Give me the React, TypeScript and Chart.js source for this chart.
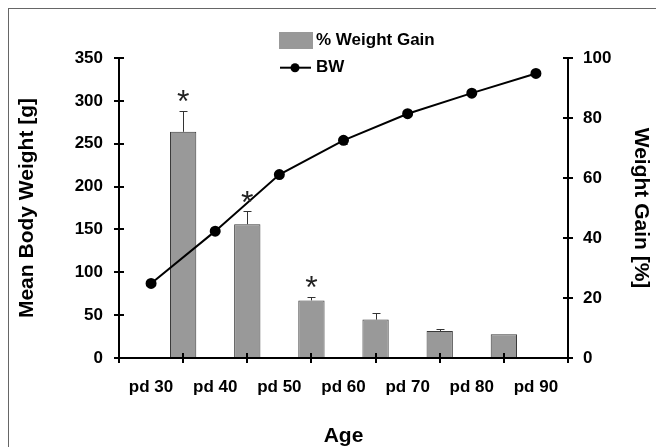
import React, { useEffect, useRef } from 'react';
import { Chart, registerables } from 'chart.js';

Chart.register(...registerables);

const FONT = '"Liberation Sans", Arial, Helvetica, sans-serif';

// Ages (post-natal day) where body weight was measured
const ageDays = [30, 40, 50, 60, 70, 80, 90];
// Mean body weight [g] and its error
const bodyWeight = [87, 148, 214, 254, 285, 309, 332];
const bodyWeightErr = [2, 2, 3, 4, 2, 2, 2];
// Weight gain intervals are placed between consecutive ages
const gainPositions = [35, 45, 55, 65, 75, 85];
const weightGain = [75.4, 44.6, 19.2, 12.8, 9.0, 7.9];
const weightGainErr = [7.0, 4.4, 1.3, 2.2, 0.8, 0];
const significant = [true, true, true, false, false, false];

const leftAxis = { min: 0, max: 350, step: 50 };
const rightAxis = { min: 0, max: 100, step: 20 };

const legendLabels = { bar: '% Weight Gain', line: 'BW' };

const overlayPlugin = {
  id: 'overlay',
  afterDatasetsDraw(chart: any) {
    const ctx = chart.ctx;
    const x = chart.scales.x;
    const yL = chart.scales.y;
    const yR = chart.scales.y1;
    ctx.save();
    // error bars on weight gain bars (upper only)
    ctx.strokeStyle = '#333';
    ctx.lineWidth = 1;
    gainPositions.forEach((p, i) => {
      if (!weightGainErr[i]) return;
      const px = Math.round(x.getPixelForValue(p)) + 0.5;
      const top = yR.getPixelForValue(weightGain[i]);
      const e = Math.round(yR.getPixelForValue(weightGain[i] + weightGainErr[i])) + 0.5;
      ctx.beginPath();
      ctx.moveTo(px, top);
      ctx.lineTo(px, e);
      ctx.moveTo(px - 4, e);
      ctx.lineTo(px + 4, e);
      ctx.stroke();
    });
    // error bars on body weight
    ctx.strokeStyle = '#000';
    ageDays.forEach((a, i) => {
      const px = Math.round(x.getPixelForValue(a)) + 0.5;
      const hi = Math.round(yL.getPixelForValue(bodyWeight[i] + bodyWeightErr[i])) + 0.5;
      const lo = Math.round(yL.getPixelForValue(bodyWeight[i] - bodyWeightErr[i])) + 0.5;
      ctx.beginPath();
      ctx.moveTo(px, lo);
      ctx.lineTo(px, hi);
      ctx.moveTo(px - 3, hi);
      ctx.lineTo(px + 3, hi);
      ctx.moveTo(px - 3, lo);
      ctx.lineTo(px + 3, lo);
      ctx.stroke();
    });
    ctx.restore();
  },
  afterDraw(chart: any) {
    const ctx = chart.ctx;
    const area = chart.chartArea;
    const x = chart.scales.x;
    const yL = chart.scales.y;
    const yR = chart.scales.y1;
    ctx.save();
    // inward halves of the crossing tick marks
    ctx.strokeStyle = '#000';
    ctx.lineWidth = 2;
    ctx.beginPath();
    yL.ticks.forEach((t: any) => {
      const py = Math.round(yL.getPixelForValue(t.value));
      ctx.moveTo(area.left, py);
      ctx.lineTo(area.left + 5, py);
    });
    yR.ticks.forEach((t: any) => {
      const py = Math.round(yR.getPixelForValue(t.value));
      ctx.moveTo(area.right - 5, py);
      ctx.lineTo(area.right, py);
    });
    for (let i = 1; i < x.ticks.length; i++) {
      const px = Math.round((x.getPixelForTick(i - 1) + x.getPixelForTick(i)) / 2);
      ctx.moveTo(px, area.bottom - 5);
      ctx.lineTo(px, area.bottom);
    }
    ctx.stroke();

    // significance stars
    ctx.fillStyle = '#222';
    ctx.font = `32px ${FONT}`;
    ctx.textAlign = 'center';
    ctx.textBaseline = 'alphabetic';
    gainPositions.forEach((p, i) => {
      if (!significant[i]) return;
      const px = x.getPixelForValue(p);
      const e = yR.getPixelForValue(weightGain[i] + weightGainErr[i]);
      const cy = e - 17;
      ctx.fillText('*', px, cy + 0.58 * 32);
    });

    // legend
    const lx = 270;
    const ly1 = 31.5;
    const ly2 = 58.7;
    ctx.fillStyle = '#999999';
    ctx.fillRect(lx, ly1 - 8.5, 34, 17);
    ctx.strokeStyle = '#000';
    ctx.lineWidth = 2;
    ctx.beginPath();
    ctx.moveTo(lx + 1, ly2);
    ctx.lineTo(lx + 32, ly2);
    ctx.stroke();
    ctx.fillStyle = '#000';
    ctx.beginPath();
    ctx.arc(lx + 16, ly2, 4.5, 0, Math.PI * 2);
    ctx.fill();
    ctx.font = `bold 17px ${FONT}`;
    ctx.textAlign = 'left';
    ctx.textBaseline = 'middle';
    ctx.fillText(legendLabels.bar, lx + 37, ly1);
    ctx.fillText(legendLabels.line, lx + 37, ly2);
    ctx.restore();
  },
};

export default function App() {
  const canvasRef = useRef<HTMLCanvasElement | null>(null);

  useEffect(() => {
    if (!canvasRef.current) return;
    Chart.defaults.font.family = FONT;
    const tickFont = { family: FONT, size: 17, weight: 'bold' as const };
    const titleFont = { family: FONT, size: 21, weight: 'bold' as const };
    const chart = new Chart(canvasRef.current, {
      type: 'bar',
      data: {
        datasets: [
          {
            type: 'line',
            label: legendLabels.line,
            data: ageDays.map((a, i) => ({ x: a, y: bodyWeight[i] })),
            yAxisID: 'y',
            xAxisID: 'x',
            borderColor: '#000',
            borderWidth: 2,
            pointRadius: 4.5,
            pointBackgroundColor: '#000',
            pointBorderColor: '#000',
            tension: 0,
            order: 0,
          } as any,
          {
            type: 'bar',
            label: legendLabels.bar,
            data: gainPositions.map((p, i) => ({ x: p, y: weightGain[i] })),
            yAxisID: 'y1',
            xAxisID: 'x',
            backgroundColor: '#999999',
            borderColor: '#3a3a3a',
            borderWidth: 1,
            borderSkipped: 'bottom',
            barPercentage: 0.41,
            categoryPercentage: 1,
            order: 1,
          } as any,
        ],
      },
      options: {
        responsive: false,
        animation: false,
        layout: { padding: { top: 49, left: 0, right: 0, bottom: 0 } },
        plugins: { legend: { display: false }, tooltip: { enabled: false } },
        scales: {
          x: {
            type: 'linear',
            min: 25,
            max: 95,
            offset: false,
            afterBuildTicks: (s: any) => {
              s.ticks = ageDays.map((v) => ({ value: v }));
            },
            afterFit: (s: any) => {
              s.height = 89;
            },
            ticks: {
              callback: (v: any) => 'pd ' + v,
              font: tickFont,
              color: '#000',
              padding: 14,
              maxRotation: 0,
              autoSkip: false,
            },
            grid: { offset: true, drawOnChartArea: false, tickLength: 5, color: '#000', lineWidth: 2 },
            border: { color: '#000', width: 2 },
            title: {
              display: true,
              text: 'Age',
              font: { ...titleFont, lineHeight: 1 },
              color: '#000',
              padding: { top: 0, bottom: 0 },
            },
          },
          y: {
            type: 'linear',
            position: 'left',
            min: leftAxis.min,
            max: leftAxis.max,
            afterFit: (s: any) => {
              s.width = 110;
            },
            ticks: { stepSize: leftAxis.step, font: tickFont, color: '#000', padding: 11 },
            grid: { drawOnChartArea: false, tickLength: 5, color: '#000', lineWidth: 2 },
            border: { color: '#000', width: 2 },
            title: { display: true, text: 'Mean Body Weight [g]', font: titleFont, color: '#000', padding: { top: 6, bottom: 0 } },
          },
          y1: {
            type: 'linear',
            position: 'right',
            min: rightAxis.min,
            max: rightAxis.max,
            afterFit: (s: any) => {
              s.width = 88;
            },
            ticks: { stepSize: rightAxis.step, font: tickFont, color: '#000', padding: 10 },
            grid: { drawOnChartArea: false, tickLength: 5, color: '#000', lineWidth: 2 },
            border: { color: '#000', width: 2 },
            title: { display: true, text: 'Weight Gain [%]', font: titleFont, color: '#000', padding: { top: 3, bottom: 0 } },
          },
        },
      } as any,
      plugins: [overlayPlugin],
    });
    return () => chart.destroy();
  }, []);

  return (
    <div
      style={{
        position: 'fixed',
        left: 8,
        top: 8,
        width: 648,
        height: 439,
        boxSizing: 'border-box',
        borderTop: '1px solid #666',
        borderLeft: '1px solid #666',
        background: '#fff',
        overflow: 'hidden',
      }}
    >
      <canvas ref={canvasRef} width={647} height={438} style={{ display: 'block', width: 647, height: 438 }} />
    </div>
  );
}
